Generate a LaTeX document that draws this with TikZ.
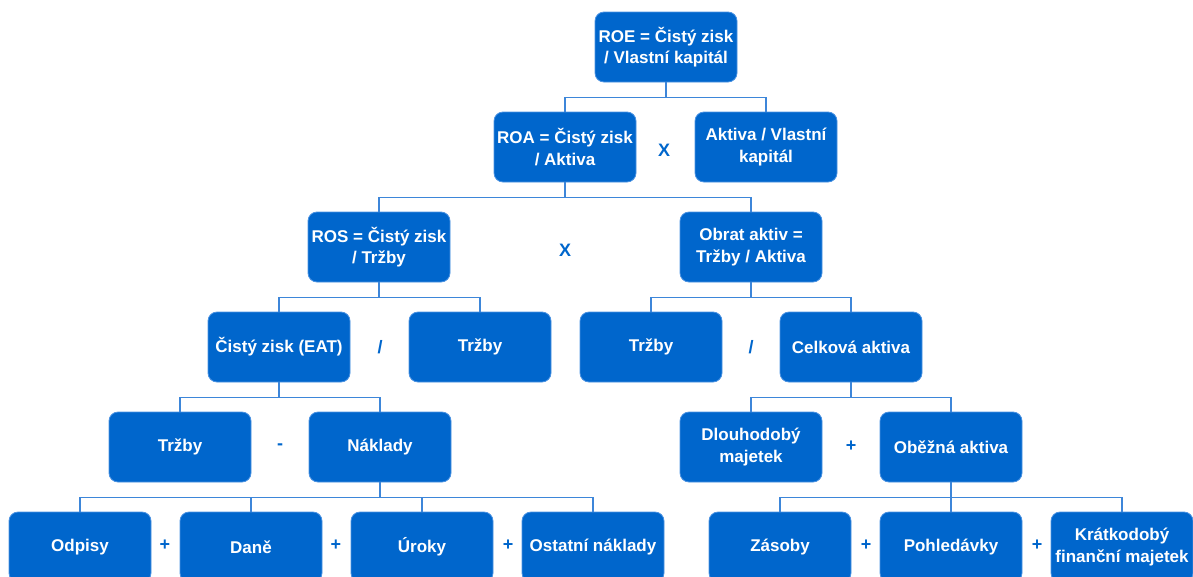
\documentclass[tikz,border=0pt]{standalone}
\usepackage{fontspec}
\setmainfont{Liberation Sans}

\definecolor{boxblue}{HTML}{0066CC}
\definecolor{edgeblue}{HTML}{4A92E2}
\definecolor{linkblue}{HTML}{3D86D9}

\begin{document}
\begin{tikzpicture}[
    x=1pt,
    y=-1pt,
    block/.style={
        draw=edgeblue,
        line width=0.8pt,
        fill=boxblue,
        rounded corners=9pt,
        minimum width=142pt,
        minimum height=70pt,
        inner sep=1pt,
        text=white,
        font=\fontsize{17}{21.5}\selectfont\bfseries,
        align=center
    },
    operator/.style={
        text=boxblue,
        font=\fontsize{18}{21}\selectfont\bfseries
    },
    link/.style={
        draw=linkblue,
        line width=1.4pt
    }
]

\useasboundingbox (0,0) rectangle (1193,576);

% Vertical positions of the rows
\def\RowA{47}
\def\RowB{147}
\def\RowC{247}
\def\RowD{347}
\def\RowE{447}
\def\RowF{547}

% ==================================================
% ROE and its split
% ==================================================

\node[block] (roe) at (666,\RowA)
    {ROE = Čistý zisk\\/ Vlastní kapitál};

\node[block] (roa) at (565,\RowB)
    {ROA = Čistý zisk\\/ Aktiva};

\node[block] (leverage) at (766,\RowB)
    {Aktiva / Vlastní\\kapitál};

\node[operator] (timesA) at (664,\RowB+3) {X};

\draw[link] (roe.south) -- ++(0,15) -| (roa.north);
\draw[link] (roe.south) -- ++(0,15) -| (leverage.north);

% ==================================================
% ROA = ROS x obrat aktiv
% ==================================================

\node[block] (ros) at (379,\RowC)
    {ROS = Čistý zisk\\/ Tržby};

\node[block] (turnover) at (751,\RowC)
    {Obrat aktiv =\\Tržby / Aktiva};

\node[operator] (timesB) at (565,\RowC+3) {X};

\draw[link] (roa.south) -- ++(0,15) -| (ros.north);
\draw[link] (roa.south) -- ++(0,15) -| (turnover.north);

% ==================================================
% ROS and obrat aktiv
% ==================================================

\node[block] (eat) at (279,\RowD)
    {Čistý zisk (EAT)};

\node[block] (salesA) at (480,\RowD)
    {Tržby};

\node[operator] (divA) at (380,\RowD) {/};

\node[block] (salesB) at (651,\RowD)
    {Tržby};

\node[block] (assets) at (851,\RowD)
    {Celková aktiva};

\node[operator] (divB) at (751,\RowD) {/};

\draw[link] (ros.south) -- ++(0,15) -| (eat.north);
\draw[link] (ros.south) -- ++(0,15) -| (salesA.north);
\draw[link] (turnover.south) -- ++(0,15) -| (salesB.north);
\draw[link] (turnover.south) -- ++(0,15) -| (assets.north);

% ==================================================
% Čistý zisk and celková aktiva
% ==================================================

\node[block] (salesC) at (180,\RowE)
    {Tržby};

\node[block] (costs) at (380,\RowE)
    {Náklady};

\node[operator] (minus) at (280,\RowE) {-};

\node[block] (fixed) at (751,\RowE)
    {Dlouhodobý\\majetek};

\node[block] (current) at (951,\RowE)
    {Oběžná aktiva};

\node[operator] (plusA) at (851,\RowE-1) {+};

\draw[link] (eat.south) -- ++(0,15) -| (salesC.north);
\draw[link] (eat.south) -- ++(0,15) -| (costs.north);
\draw[link] (assets.south) -- ++(0,15) -| (fixed.north);
\draw[link] (assets.south) -- ++(0,15) -| (current.north);

% ==================================================
% Náklady
% ==================================================

\node[block] (depr) at (80,\RowF)
    {Odpisy};

\node[block] (taxes) at (251,\RowF)
    {Daně};

\node[block] (interest) at (422,\RowF)
    {Úroky};

\node[block] (other) at (593,\RowF)
    {Ostatní náklady};

\node[operator] (plusB) at (165,\RowF-2) {+};
\node[operator] (plusC) at (336,\RowF-2) {+};
\node[operator] (plusD) at (508,\RowF-2) {+};

\draw[link] (costs.south) -- ++(0,15) -| (depr.north);
\draw[link] (costs.south) -- ++(0,15) -| (taxes.north);
\draw[link] (costs.south) -- ++(0,15) -| (interest.north);
\draw[link] (costs.south) -- ++(0,15) -| (other.north);

% ==================================================
% Oběžná aktiva
% ==================================================

\node[block] (stock) at (780,\RowF)
    {Zásoby};

\node[block] (claims) at (951,\RowF)
    {Pohledávky};

\node[block] (cash) at (1122,\RowF)
    {Krátkodobý\\finanční majetek};

\node[operator] (plusE) at (866,\RowF-2) {+};
\node[operator] (plusF) at (1037,\RowF-2) {+};

\draw[link] (current.south) -- ++(0,15) -| (stock.north);
\draw[link] (current.south) -- ++(0,15) -| (claims.north);
\draw[link] (current.south) -- ++(0,15) -| (cash.north);

\end{tikzpicture}
\end{document}
